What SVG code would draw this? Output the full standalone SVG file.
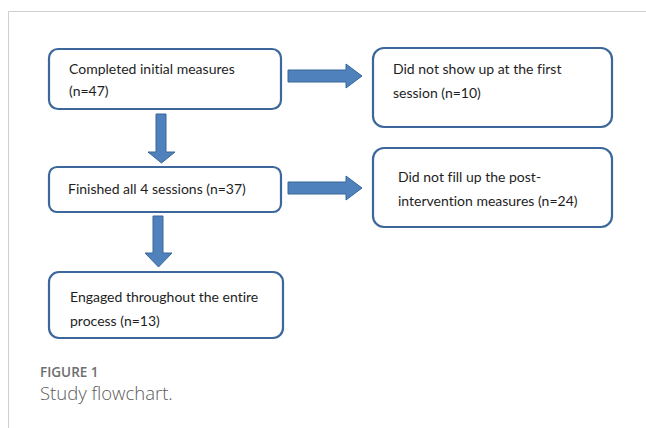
<svg xmlns="http://www.w3.org/2000/svg" width="646" height="428" viewBox="0 0 646 428">
<style>
.frame{stroke:#cfcfcf;stroke-width:1;fill:none}
.box{fill:#ffffff;stroke:#3b679b;stroke-width:2.2}
.t{font-family:Lato,"Open Sans","Liberation Sans",sans-serif;font-size:14px;fill:#1e1e1e;font-variant-ligatures:none}
.arr{fill:#4f81bd;stroke:#3a6698;stroke-width:1}
.fig{font-family:"Open Sans","Liberation Sans",sans-serif;font-size:13.5px;font-weight:600;fill:#6e6e6e}
.cap{font-family:"Open Sans","Liberation Sans",sans-serif;font-size:18.5px;font-weight:300;fill:#5a5a5a}
</style>
<rect width="646" height="428" fill="#ffffff"/>
<path class="frame" d="M8.5 428 V11.5 H646"/>
<g id="connectors">
<path class="arr" d="M288 70 H346 V64 L362 76 L346 88 V82 H288 Z"/>
<path class="arr" d="M288 182 H346 V176 L362 188 L346 200 V194 H288 Z"/>
<path class="arr" d="M156 114 H166 V152 H175 L161.5 163 L148 152 H156 Z"/>
<path class="arr" d="M153 216 H163 V253 H172 L158.5 267 L145 253 H153 Z"/>
</g>
<g id="n1">
<rect class="box" x="49" y="49" width="232" height="60" rx="9"/>
<text class="t" x="69" y="74">Completed initial measures</text>
<text class="t" x="69" y="96">(n=47)</text>
</g>
<g id="n2">
<rect class="box" x="373" y="48" width="239" height="79" rx="11"/>
<text class="t" x="393" y="74">Did not show up at the first</text>
<text class="t" x="393" y="98">session (n=10)</text>
</g>
<g id="n3">
<rect class="box" x="49" y="167" width="232" height="45" rx="8"/>
<text class="t" x="68" y="194">Finished all 4 sessions (n=37)</text>
</g>
<g id="n4">
<rect class="box" x="373" y="148" width="239" height="79" rx="11"/>
<text class="t" x="398" y="182">Did not fill up the post-</text>
<text class="t" x="398" y="206">intervention measures (n=24)</text>
</g>
<g id="n5">
<rect class="box" x="49" y="272" width="234" height="66" rx="10"/>
<text class="t" x="70" y="302">Engaged throughout the entire</text>
<text class="t" x="70" y="326">process (n=13)</text>
</g>
<text class="fig" x="40" y="377">FIGURE 1</text>
<text class="cap" x="40" y="400">Study flowchart.</text>
</svg>
